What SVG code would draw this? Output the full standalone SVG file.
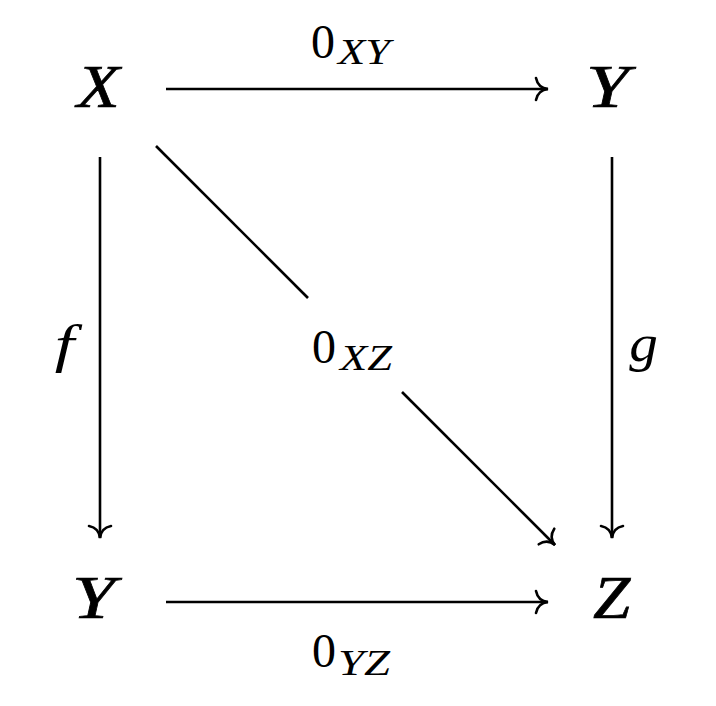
<svg xmlns="http://www.w3.org/2000/svg" width="716" height="706" viewBox="0 0 716 706">
<style>
  .node { font-family: "Liberation Serif", "Times New Roman", serif; font-style: italic; font-size: 62px; fill: #000; stroke: #000; stroke-width: 0.7; }
  .lbl { font-family: "Liberation Serif", "Times New Roman", serif; font-size: 48px; fill: #000; }
  .sub { font-family: "Liberation Serif", "Times New Roman", serif; font-style: italic; font-size: 36px; fill: #000; }
  .ital { font-family: "Liberation Serif", "Times New Roman", serif; font-style: italic; font-size: 52px; fill: #000; }
  .edge { stroke: #000; stroke-width: 2.6; fill: none; }
</style>
<defs>
  <marker id="head" markerUnits="userSpaceOnUse" markerWidth="30" markerHeight="30" viewBox="-15 -15 30 30" refX="0" refY="0" orient="auto">
    <path d="M -12,-11 Q -10,-1 0,0 Q -10,1 -12,11" stroke="#000" stroke-width="2.6" fill="none" stroke-linecap="round"/>
  </marker>
</defs>
<rect width="716" height="706" fill="#fff"/>
<g id="connectors">
  <line class="edge" x1="166" y1="89" x2="548" y2="89" marker-end="url(#head)"/>
  <line class="edge" x1="166" y1="602" x2="548" y2="602" marker-end="url(#head)"/>
  <line class="edge" x1="100" y1="157" x2="100" y2="538" marker-end="url(#head)"/>
  <line class="edge" x1="612" y1="157" x2="612" y2="538" marker-end="url(#head)"/>
  <line class="edge" x1="156" y1="146" x2="308" y2="298"/>
  <line class="edge" x1="402" y1="392" x2="555" y2="545" marker-end="url(#head)"/>
</g>
<g id="node-X">
  <text class="node" transform="translate(98.5,107) scale(1.13,1)" text-anchor="middle">X</text>
</g>
<g id="node-Y-top">
  <text class="node" transform="translate(607.5,107) scale(1.25,1)" text-anchor="middle">Y</text>
</g>
<g id="node-Y-bottom">
  <text class="node" transform="translate(93.5,618) scale(1.25,1)" text-anchor="middle">Y</text>
</g>
<g id="node-Z">
  <text class="node" transform="translate(611.5,618) scale(1.08,1)" text-anchor="middle">Z</text>
</g>
<g id="labels">
  <g id="label-0XY">
    <text class="lbl" x="311" y="58">0</text>
    <text class="sub" x="338" y="64" textLength="52" lengthAdjust="spacingAndGlyphs">XY</text>
  </g>
  <g id="label-0XZ">
    <text class="lbl" x="312" y="363">0</text>
    <text class="sub" x="340" y="370" textLength="52" lengthAdjust="spacingAndGlyphs">XZ</text>
  </g>
  <g id="label-0YZ">
    <text class="lbl" x="312" y="667">0</text>
    <text class="sub" x="338" y="675" textLength="52" lengthAdjust="spacingAndGlyphs">YZ</text>
  </g>
  <g id="label-f">
    <text class="ital" transform="translate(64.5,362) scale(1.35,1)" text-anchor="middle">f</text>
  </g>
  <g id="label-g">
    <text class="ital" transform="translate(643.5,361) scale(1.1,1)" text-anchor="middle">g</text>
  </g>
</g>
</svg>
